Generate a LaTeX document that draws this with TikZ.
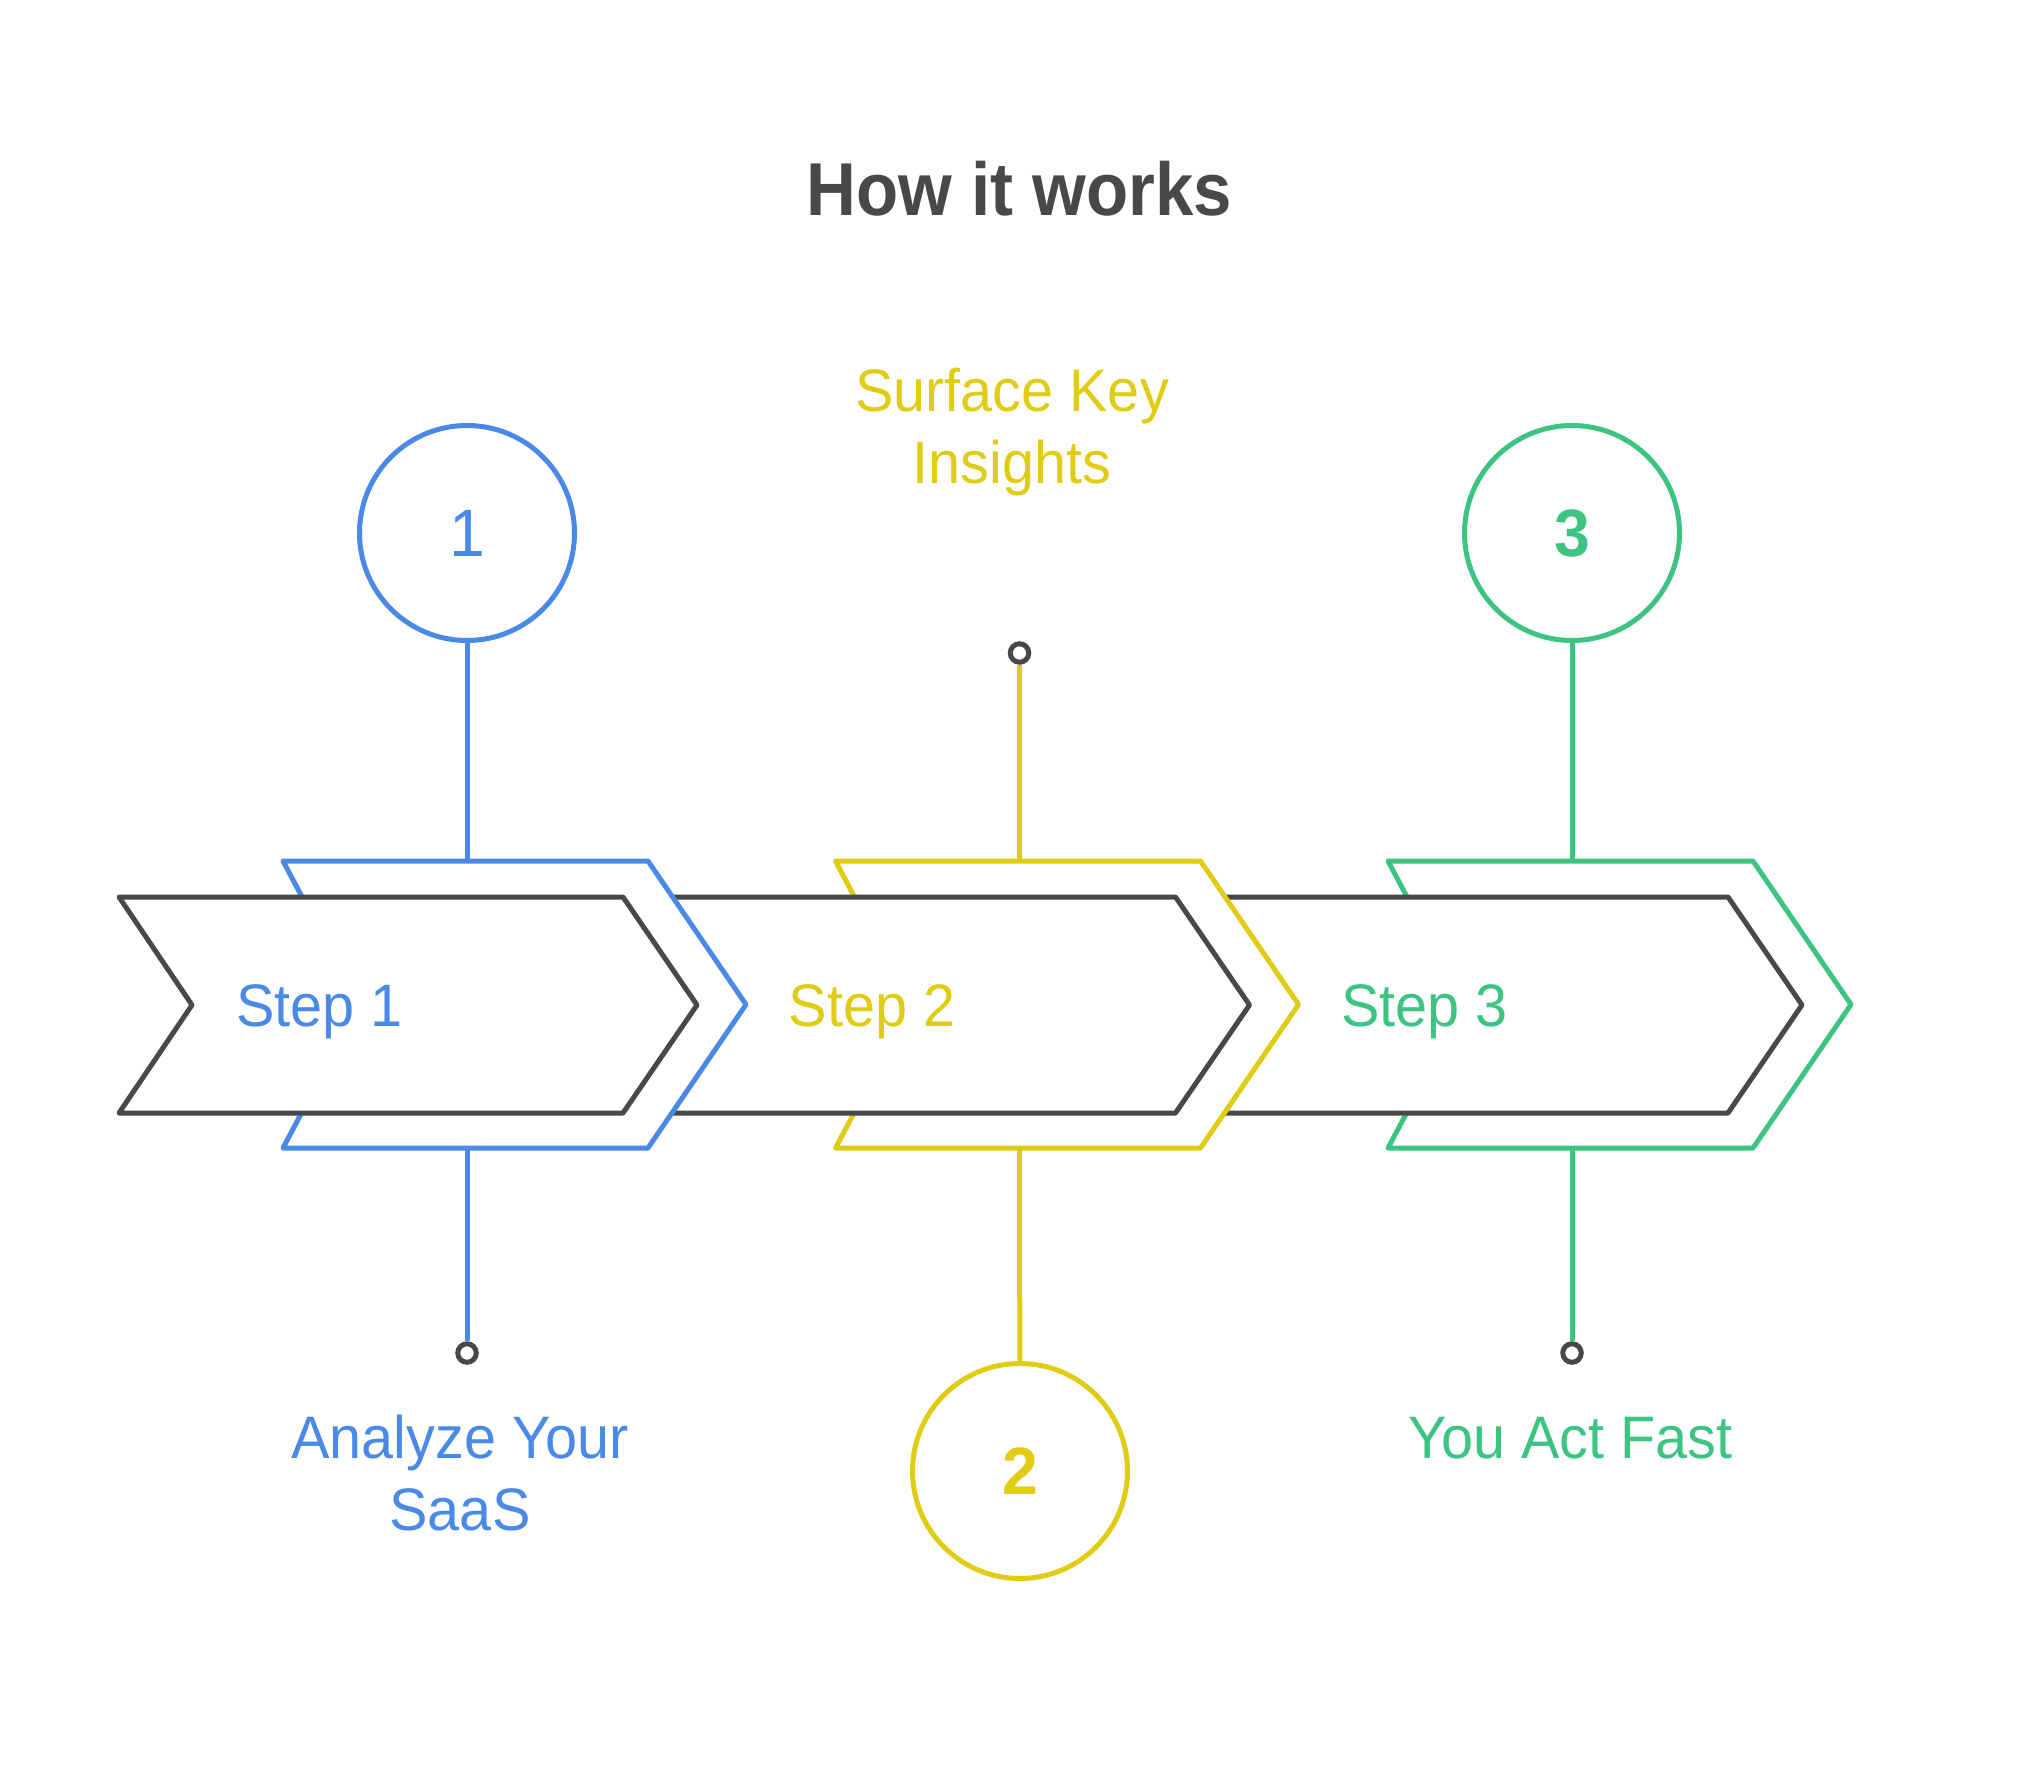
\documentclass[tikz,border=0pt]{standalone}
\usepackage{fontspec}
\setmainfont{Liberation Sans}[FakeStretch=0.96]
\newfontfamily\titlefont{Liberation Sans}[FakeStretch=0.92]

\definecolor{stepblue}{HTML}{4A89E6}
\definecolor{stepyellow}{HTML}{E0CC14}
\definecolor{stepgreen}{HTML}{3DC482}
\definecolor{chevdark}{HTML}{484848}

\begin{document}
\begin{tikzpicture}[x=1pt,y=-1pt,
    chev/.style={line width=5pt,line join=round,fill=white},
    link/.style={line width=5pt},
    numcirc/.style={circle,draw,line width=5pt,minimum size=215pt,inner sep=0pt,font=\fontsize{67}{80}\selectfont},
    ring/.style={circle,draw=chevdark,line width=5pt,minimum size=18.5pt,inner sep=0pt,fill=white},
    desc/.style={align=center,inner sep=0pt,anchor=base,font=\fontsize{60}{72}\selectfont},
    steptext/.style={anchor=base west,inner sep=0pt,font=\fontsize{60}{72}\selectfont}]

    \useasboundingbox (0,0) rectangle (2037,1787);

    \node[anchor=base,inner sep=0pt,text=chevdark,font=\titlefont\bfseries\fontsize{75}{90}\selectfont] (title) at (1019.5,216) {How it works};

    % chevrons from right to left, each colour hides the next dark one
    \foreach \i/\n/\col in {2/3/stepgreen,1/2/stepyellow,0/1/stepblue}{
    \begin{scope}[shift={(552.5*\i,0)}]
    \draw[chev,draw=\col] (283,861) -- (648,861) -- (746,1004.5) -- (648,1148)
    -- (283,1148) -- (359,1004.5) -- cycle;
    \draw[chev,draw=chevdark] (119,897) -- (623,897) -- (697,1005) -- (623,1113)
    -- (119,1113) -- (192,1005) -- cycle;
    \node[steptext,text=\col] (step\n) at (236,1026) {Step \n};
    \coordinate (top\n) at (467,861);
    \coordinate (bot\n) at (467,1148);
    \end{scope}
    }

    \node[numcirc,draw=stepblue,text=stepblue] (num1) at (467,533) {1};
    \node[numcirc,draw=stepyellow,text=stepyellow] (num2) at (1020,1471) {\bfseries 2};
    \node[numcirc,draw=stepgreen,text=stepgreen] (num3) at (1572,533) {\bfseries 3};

    \node[ring] (ring1) at (467,1353) {};
    \node[ring] (ring2) at (1019.5,653) {};
    \node[ring] (ring3) at (1572,1353) {};

    \draw[link,stepblue] (num1) -- (top1) (bot1) -- (ring1);
    \draw[link,stepyellow] (ring2) -- (top2) (bot2) -- (num2);
    \draw[link,stepgreen] (num3) -- (top3) (bot3) -- (ring3);

    % base of a two-line node is the last line
    \node[desc,text=stepblue] (desc1) at (460,1530) {Analyze Your\\SaaS};
    \node[desc,text=stepyellow] (desc2) at (1012,483) {Surface Key\\Insights};
    \node[desc,text=stepgreen] (desc3) at (1570.5,1458) {You Act Fast};

\end{tikzpicture}
\end{document}
